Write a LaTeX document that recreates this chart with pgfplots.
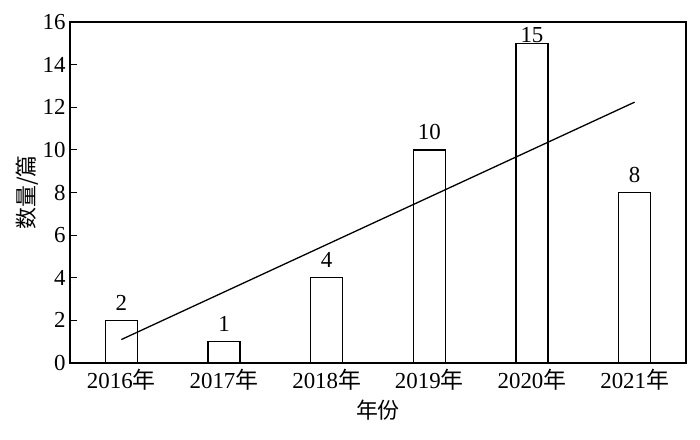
\documentclass[border=0pt]{standalone}
\usepackage{pgfplots}
\pgfplotsset{compat=1.18}
\usepackage{fontspec}
\setmainfont{Liberation Serif}
\newfontfamily\cjk{Noto Sans CJK SC}
\begin{document}
\begin{tikzpicture}[x=1bp,y=1bp]
\begin{axis}[
  at={(0,0)}, anchor=south west,
  scale only axis, width=616bp, height=341bp,
  xmin=-0.5, xmax=5.5, ymin=0, ymax=16,
  xtick={0,1,2,3,4,5},
  xticklabels={2016{\cjk 年},2017{\cjk 年},2018{\cjk 年},2019{\cjk 年},2020{\cjk 年},2021{\cjk 年}},
  ytick={0,2,...,16},
  ytick pos=left, tick align=inside,
  major tick length=7bp,
  x tick style={draw=none},
  /pgf/number format/assume math mode=true,
  tick label style={font=\fontsize{23}{27}\selectfont},
  xticklabel style={yshift=-3bp},
  yticklabel style={xshift=-1bp},
  xlabel={\cjk 年份}, ylabel={\cjk 数量/篇},
  label style={font=\fontsize{22}{26}\selectfont},
  xlabel style={yshift=-2bp},
  ylabel style={yshift=-3bp},
  axis line style={line width=1.3bp},
  every tick/.style={line width=1.2bp, black},
  clip=false,
]
\addplot[ybar, bar width=32bp, draw=black, fill=white, line width=1.3bp,
  nodes near coords, every node near coord/.style={font=\fontsize{23}{27}\selectfont, black, yshift=6bp}]
  coordinates {(0,2) (1,1) (2,4) (3,10) (5,8)};
\addplot[ybar, bar width=32bp, draw=black, fill=white, line width=1.3bp,
  nodes near coords, every node near coord/.style={font=\fontsize{23}{27}\selectfont, black, yshift=-3bp}]
  coordinates {(4,15)};
\addplot[black, line width=1.3bp] coordinates {(0,1.1) (5,12.24)};
\end{axis}
\path[use as bounding box] (-70bp,-77bp) rectangle (630bp,363bp);
\end{tikzpicture}
\end{document}
